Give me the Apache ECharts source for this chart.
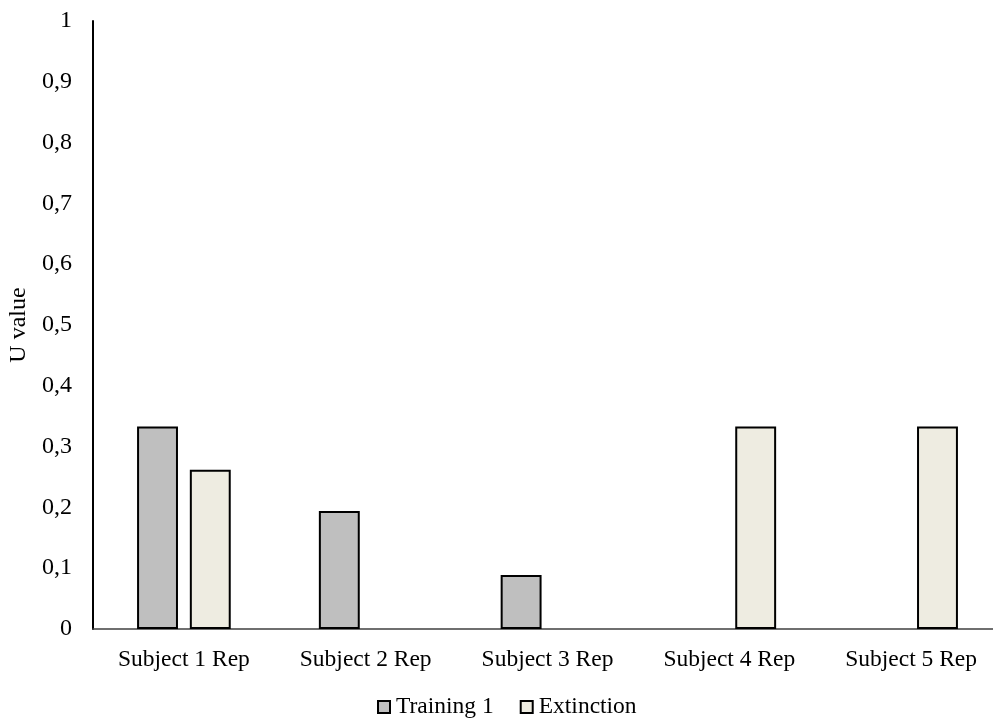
<!DOCTYPE html>
<html>
<head>
<meta charset="utf-8">
<script src="https://cdn.jsdelivr.net/npm/echarts@6/dist/echarts.min.js"></script>
<style>html,body{margin:0;padding:0;background:#fff}#c{width:993px;height:724px}</style>
</head>
<body>
<div id="c"></div>
<script>
const categories = ['Subject 1 Rep', 'Subject 2 Rep', 'Subject 3 Rep', 'Subject 4 Rep', 'Subject 5 Rep'];
const training1 = [0.333, 0.194, 0.089, 0, 0];
const extinction = [0.262, 0, 0, 0.333, 0.333];
const seriesNames = ['Training 1', 'Extinction'];
const yTicks = { min: 0, max: 1, interval: 0.1 };

const hideZero = arr => arr.map(v => (v === 0 ? '-' : v));
const font = '"Liberation Serif", "Times New Roman", serif';
const chart = echarts.init(document.getElementById('c'));
chart.setOption({
  animation: false,
  backgroundColor: '#fff',
  grid: { left: 93, width: 909, top: 21, bottom: 95, containLabel: false, outerBoundsMode: 'none' },
  legend: {
    bottom: 0, left: 372, itemWidth: 12, itemHeight: 12, itemGap: 26,
    textStyle: { fontFamily: font, fontSize: 23.5, color: '#000', padding: [0,0,0,1] },
    data: seriesNames.map(n => ({ name: n, icon: 'rect' }))
  },
  xAxis: {
    type: 'category', data: categories,
    axisLine: { lineStyle: { color: '#404040', width: 1.5 } },
    axisTick: { show: false },
    axisLabel: { fontFamily: font, fontSize: 23.5, color: '#000', margin: 19 }
  },
  yAxis: {
    type: 'value', min: yTicks.min, max: yTicks.max, interval: yTicks.interval,
    name: 'U value', nameLocation: 'middle', nameGap: 55, nameRotate: 90,
    nameTextStyle: { fontFamily: font, fontSize: 24, color: '#000' },
    axisLine: { show: true, lineStyle: { color: '#000', width: 2 } },
    axisTick: { show: false },
    splitLine: { show: false },
    axisLabel: { fontFamily: font, fontSize: 24, color: '#000', margin: 21,
      formatter: v => (Math.round(v * 10) / 10).toString().replace('.', ',') }
  },
  series: [
    { name: seriesNames[0], type: 'bar', data: hideZero(training1), barWidth: '22.5%', barGap: '29%',
      itemStyle: { color: '#BFBFBF', borderColor: '#000', borderWidth: 2 } },
    { name: seriesNames[1], type: 'bar', data: hideZero(extinction), barWidth: '22.5%',
      itemStyle: { color: '#EEECE1', borderColor: '#000', borderWidth: 2 } }
  ]
});
</script>
</body>
</html>
